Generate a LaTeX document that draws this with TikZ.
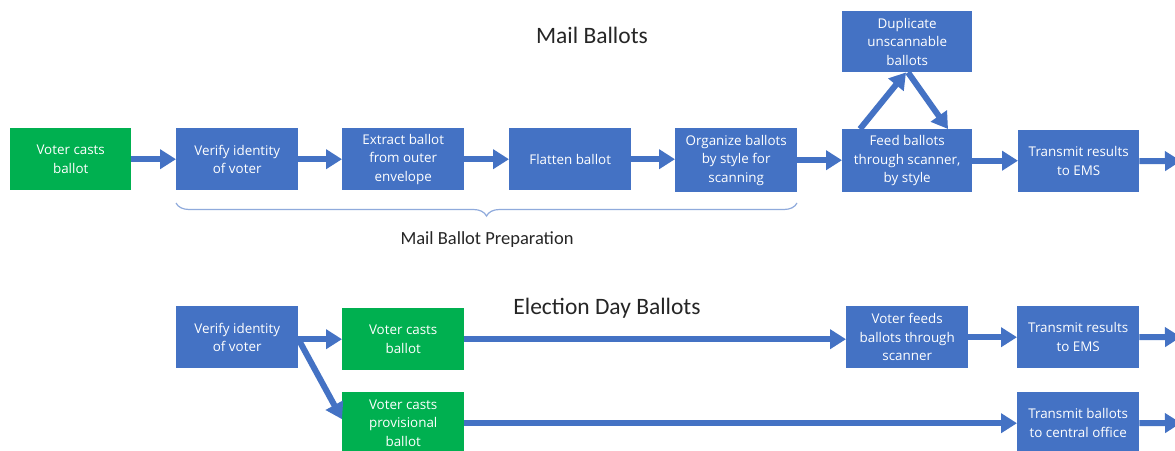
\documentclass[tikz,border=0pt]{standalone}
\usepackage{fontspec}
\setmainfont{Carlito}
\newfontfamily\boxfont{Open Sans}
\usetikzlibrary{arrows.meta,decorations.pathreplacing}
\definecolor{boxblue}{HTML}{4472C4}
\definecolor{boxgreen}{HTML}{00B050}
\definecolor{bracecol}{HTML}{8FAADC}
\definecolor{titlecol}{HTML}{262626}
\begin{document}
\begin{tikzpicture}[x=1pt,y=-1pt,
 box/.style={fill=boxblue, text=white, font=\boxfont\fontsize{13.4}{18.5}\selectfont, align=center, inner sep=0pt, minimum width=122pt, minimum height=62pt, anchor=north west},
 gbox/.style={box, fill=boxgreen},
 flow/.style={draw=boxblue, line width=6pt, -{Triangle[width=19pt,length=16pt]}},
 title/.style={font=\fontsize{23.5}{28}\selectfont, text=titlecol},
]
\fill[white] (0,0) rectangle (1175,450);
\useasboundingbox (0,0) rectangle (1175,450);

% Mail ballots
\node[title] (t1) at (592,35) {Mail Ballots};
\node[gbox, minimum width=121pt] (m0) at (10,128) {Voter casts\\ballot};
\node[box] (m1) at (176,128) {Verify identity\\of voter};
\node[box] (m2) at (342,128) {Extract ballot\\from outer\\envelope};
\node[box] (m3) at (509,128) {Flatten ballot};
\node[box, minimum height=64pt] (m4) at (675,128) {Organize ballots\\by style for\\scanning};
\node[box, minimum width=130pt, minimum height=63pt] (m5) at (842,129) {Feed ballots\\through scanner,\\by style};
\node[box, minimum width=130pt, minimum height=61pt] (dup) at (842,11) {Duplicate\\unscannable\\ballots};
\node[box, minimum width=121pt] (m6) at (1018,130) {Transmit results\\to EMS};
\coordinate (m7) at (1181,161);

\draw[flow] (m0.east) -- (m0.east -| m1.west);
\draw[flow] (m1.east) -- (m1.east -| m2.west);
\draw[flow] (m2.east) -- (m2.east -| m3.west);
\draw[flow] (m3.east) -- (m3.east -| m4.west);
\draw[flow] (m4.east) -- (m4.east -| m5.west);
\draw[flow] (m5.east) -- (m5.east -| m6.west);
\draw[flow] (m6.east) -- (m7);
\draw[flow] ([xshift=18pt]m5.north west) -- ([xshift=64pt]dup.south west);
\draw[flow] ([xshift=66pt]dup.south west) -- ([xshift=106pt]m5.north west);

\coordinate (b1) at (176,203);
\coordinate (b2) at (797,203);
\draw[bracecol, line width=1.2pt, decorate, decoration={brace, mirror, amplitude=13pt}] (b1) -- (b2);
\node[font=\fontsize{18.5}{22}\selectfont, text=titlecol] (lab) at (487,240) {Mail Ballot Preparation};

% Election day ballots
\node[title] (t2) at (607,308) {Election Day Ballots};
\node[box] (e1) at (176,306) {Verify identity\\of voter};
\node[gbox] (e2) at (342,308) {Voter casts\\ballot};
\node[gbox] (e3) at (342,392) {Voter casts\\provisional\\ballot};
\node[box] (e4) at (846,306) {Voter feeds\\ballots through\\scanner};
\node[box] (e5) at (1017,306) {Transmit results\\to EMS};
\node[box] (e6) at (1017,392) {Transmit ballots\\to central office};
\coordinate (e7) at (1181,337);
\coordinate (e8) at (1181,423);

\draw[flow] (e2.west -| e1.east) -- (e2.west);
\draw[flow] ([yshift=-2pt]e1.east) -- ([yshift=4pt]e3.west);
\draw[flow] (e2.east) -- (e2.east -| e4.west);
\draw[flow] (e3.east) -- (e3.east -| e6.west);
\draw[flow] (e4.east) -- (e4.east -| e5.west);
\draw[flow] (e5.east) -- (e7);
\draw[flow] (e6.east) -- (e8);
\end{tikzpicture}
\end{document}
